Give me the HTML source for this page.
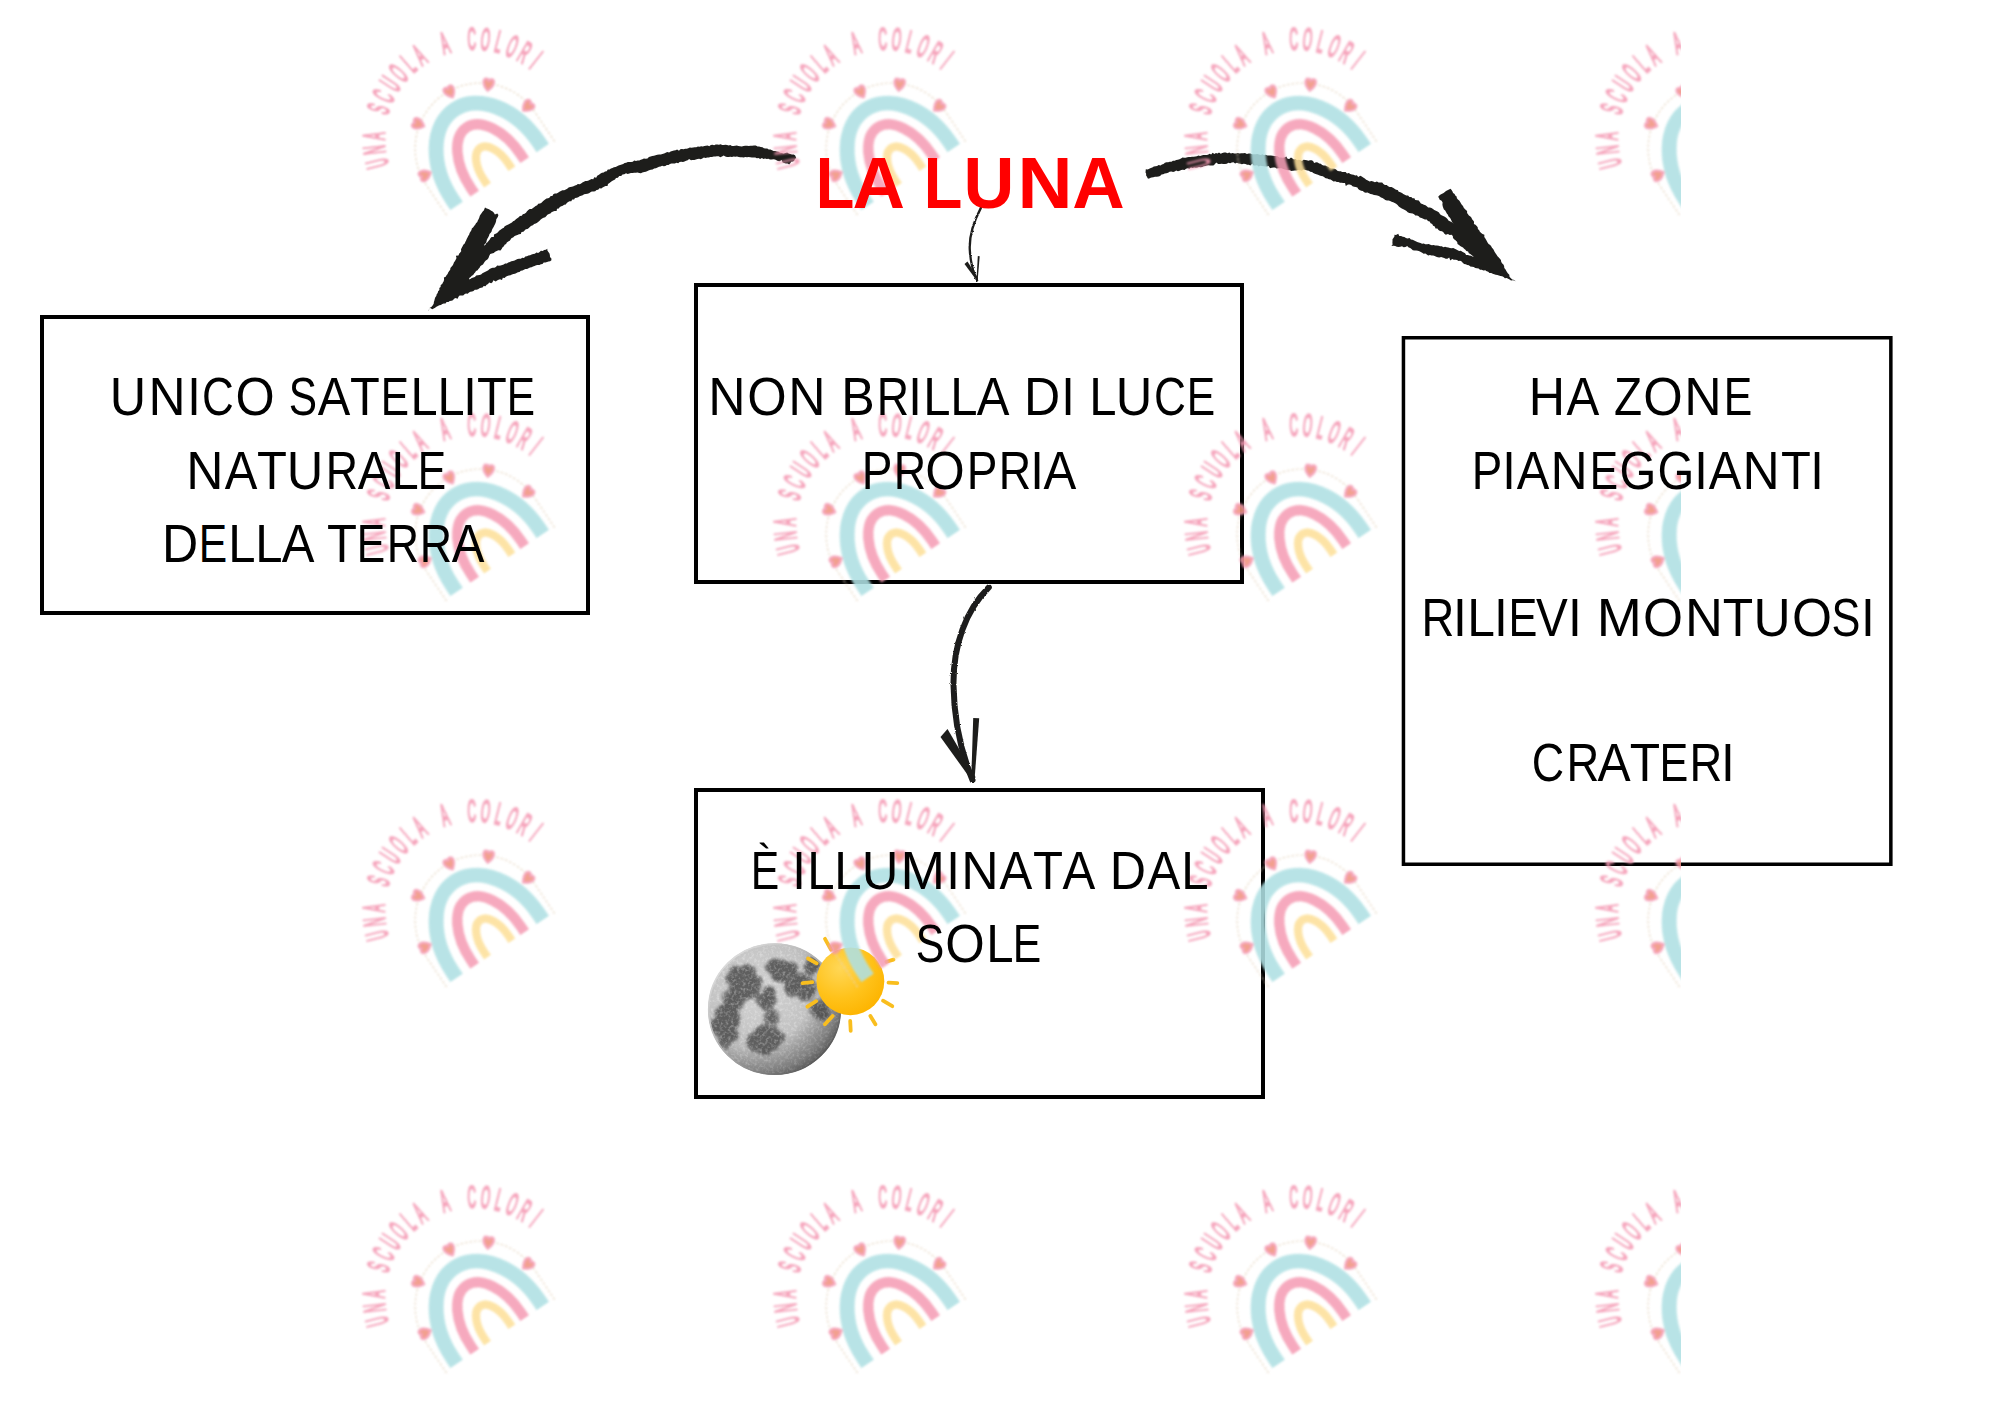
<!DOCTYPE html>
<html><head><meta charset="utf-8">
<style>
html,body{margin:0;padding:0;background:#fff;}
body{width:2000px;height:1414px;position:relative;overflow:hidden;}
.box{position:absolute;box-sizing:border-box;border:4px solid #000;}
svg{position:absolute;left:0;top:0;}
.tl{position:absolute;left:0;white-space:nowrap;font-family:"Liberation Sans",sans-serif;line-height:1;color:#000;}
.tl span{position:absolute;left:0;top:0;transform:translateX(-50%) scaleX(var(--k));}
.lun{font-weight:700;color:#ff0000;}
.t{position:absolute;white-space:nowrap;font-family:"Liberation Sans",sans-serif;line-height:1;color:#000;transform-origin:0 0;}
</style></head><body>
<div class="box" style="left:40px;top:315px;width:550px;height:300px;"></div>
<div class="box" style="left:694px;top:283px;width:550px;height:301px;"></div>
<div class="box" style="left:694px;top:788px;width:571px;height:311px;border-width:4px;"></div>
<svg width="2000" height="1414" viewBox="0 0 2000 1414">
<defs>
<radialGradient id="moonG" cx="0.38" cy="0.36" r="0.72">
<stop offset="0" stop-color="#d4d4d4"/><stop offset="0.55" stop-color="#c2c2c2"/><stop offset="0.85" stop-color="#a0a0a0"/><stop offset="1" stop-color="#707070"/>
</radialGradient>
<radialGradient id="sunG" cx="0.35" cy="0.3" r="0.75">
<stop offset="0" stop-color="#ffd757"/><stop offset="0.6" stop-color="#ffc21a"/><stop offset="1" stop-color="#fdb400"/>
</radialGradient>
<filter id="rough" x="-10%" y="-10%" width="120%" height="120%"><feTurbulence type="fractalNoise" baseFrequency="0.9" numOctaves="1" seed="5"/><feDisplacementMap in="SourceGraphic" scale="2.6" xChannelSelector="R" yChannelSelector="G"/></filter>
<filter id="mb" x="-20%" y="-20%" width="140%" height="140%"><feGaussianBlur stdDeviation="1.8"/></filter>
<filter id="speck" x="0" y="0" width="100%" height="100%"><feTurbulence type="fractalNoise" baseFrequency="0.35" numOctaves="2" seed="3"/><feColorMatrix type="matrix" values="0 0 0 0 1  0 0 0 0 1  0 0 0 0 1  0 0 0 -2.6 1.45"/></filter>
<radialGradient id="limbG" cx="0.3" cy="0.28" r="0.85"><stop offset="0.6" stop-color="#000" stop-opacity="0"/><stop offset="1" stop-color="#000" stop-opacity="0.35"/></radialGradient>
<linearGradient id="rimG" x1="0" y1="0" x2="1" y2="1"><stop offset="0" stop-color="#eeeeee"/><stop offset="0.5" stop-color="#aaaaaa"/><stop offset="1" stop-color="#3a3a3a"/></linearGradient>
<clipPath id="moonClip"><ellipse cx="774.5" cy="1009.2" rx="66.3" ry="65.6"/></clipPath>
</defs>
<rect x="1403.45" y="337.75" width="487.4" height="526.5" fill="none" stroke="#000" stroke-width="3.5"/>
<g fill="#1d1d1b">
<polygon points="795.2,155.6 793.7,154.6 792.0,154.6 790.3,154.1 788.7,153.4 787.2,152.5 785.3,152.9 783.5,153.4 781.8,153.1 780.2,152.8 778.6,151.8 777.0,151.4 775.3,151.0 773.6,150.9 772.0,150.3 770.5,149.5 768.7,149.6 767.3,148.6 765.6,148.4 763.9,148.3 762.5,147.2 760.7,147.1 759.1,146.6 757.5,146.4 755.8,145.6 754.0,145.6 752.2,145.7 750.5,145.8 748.8,145.9 747.0,145.7 745.2,145.8 743.5,145.9 741.8,146.5 740.0,146.2 738.4,146.0 736.8,145.5 735.2,145.7 733.5,146.0 731.9,146.1 730.3,145.0 728.7,145.5 727.1,144.9 725.5,144.7 723.9,144.9 722.2,145.0 720.6,144.3 719.0,144.7 717.3,144.5 715.7,144.5 714.1,145.3 712.5,144.8 710.8,145.1 709.3,146.2 707.6,145.5 706.0,145.8 704.4,145.9 702.8,146.6 701.1,146.3 699.5,146.7 697.9,146.4 696.3,147.3 694.6,147.2 693.1,147.5 691.5,147.8 689.8,147.5 688.3,148.2 686.8,148.8 685.1,148.7 683.6,149.3 681.9,149.1 680.3,149.3 679.0,150.8 677.1,149.5 675.6,150.3 673.9,150.4 672.2,151.0 670.6,151.6 669.1,152.4 667.2,152.0 665.7,152.8 664.1,153.6 662.4,154.1 660.8,154.4 659.1,154.6 657.3,154.8 655.6,155.3 654.0,155.8 652.2,156.0 650.6,156.6 648.9,157.1 647.5,158.4 645.8,158.8 643.9,158.5 642.4,159.3 640.8,159.7 639.3,160.5 637.6,160.4 636.0,161.0 634.2,160.6 632.8,161.7 631.1,161.9 629.5,162.1 627.8,161.9 626.2,162.7 624.6,163.0 623.2,163.9 621.7,164.4 620.1,165.0 618.5,165.4 617.1,166.3 615.6,167.0 613.9,167.2 612.5,168.1 610.9,168.5 609.5,169.6 607.8,169.6 606.7,171.2 605.0,171.4 603.7,172.6 602.0,172.8 600.6,173.6 599.0,174.7 597.2,175.7 596.2,177.8 594.2,177.2 593.3,179.3 591.5,179.0 590.0,179.7 588.6,180.6 587.0,180.9 585.4,181.1 583.9,181.7 582.4,182.4 581.1,183.5 579.7,184.2 577.8,183.9 576.6,185.1 575.0,185.6 573.5,186.3 571.9,186.8 570.2,187.1 568.6,187.6 567.2,188.7 565.8,189.6 564.2,190.2 562.4,190.2 560.9,190.9 559.4,191.7 558.0,192.7 556.6,193.4 554.8,193.6 553.3,194.3 552.4,195.9 550.7,196.1 549.6,197.5 548.2,198.2 546.5,198.6 545.1,199.4 543.8,200.4 542.7,201.5 541.5,202.8 540.1,203.6 538.2,203.7 537.2,205.2 535.6,205.9 534.4,207.0 533.0,208.1 531.7,209.0 529.7,209.1 528.3,210.1 527.0,211.2 526.0,212.7 524.6,213.7 522.8,214.2 521.8,215.7 519.9,216.0 518.7,217.2 517.3,218.3 515.9,219.3 514.7,220.6 513.1,221.2 511.9,222.5 510.1,223.5 508.3,224.4 506.6,225.3 504.7,226.2 503.8,227.8 502.2,228.5 500.9,229.6 499.4,230.4 498.3,231.7 497.1,233.0 495.6,233.8 494.0,234.6 493.8,236.9 491.6,237.0 490.4,238.2 489.6,239.7 488.5,240.9 487.5,242.2 486.2,243.3 485.5,244.8 484.1,245.8 484.5,244.2 486.0,243.1 486.5,241.5 486.8,239.9 487.5,238.4 488.4,237.0 489.1,235.5 489.5,233.9 490.7,232.7 491.6,231.4 492.0,229.7 492.8,228.3 493.6,226.9 494.3,225.4 495.1,224.0 495.7,222.5 496.1,220.9 496.3,219.2 497.3,217.8 498.0,216.4 498.4,214.9 497.3,213.6 494.9,214.4 493.9,212.7 492.7,211.6 491.2,210.7 489.8,209.8 488.4,208.9 486.8,208.4 485.0,207.4 484.4,209.0 483.8,210.6 482.5,211.7 481.7,213.1 480.6,214.4 479.8,215.8 479.3,217.5 478.7,219.0 477.8,220.4 477.3,222.0 476.0,223.2 475.2,224.7 474.1,225.9 473.3,227.3 471.8,228.4 471.5,230.1 470.6,231.6 469.6,232.9 469.2,234.6 468.2,236.0 467.5,237.4 466.7,238.9 466.1,240.5 465.3,242.0 464.7,243.6 463.3,244.7 462.6,246.2 461.8,247.7 461.0,249.2 461.2,251.2 460.2,252.5 459.1,253.8 458.5,255.4 455.9,255.8 456.5,258.1 455.8,259.6 455.0,261.1 453.9,262.4 453.4,264.1 452.6,265.5 451.5,266.8 450.4,268.1 450.2,269.8 449.2,271.1 448.2,272.4 447.6,274.0 446.5,275.2 445.7,276.7 443.9,277.6 444.1,279.5 443.7,281.2 442.9,282.6 442.2,284.1 440.7,285.1 440.6,286.9 439.3,288.1 439.4,289.9 438.1,291.2 437.7,292.9 436.7,294.3 436.3,295.9 435.3,297.3 434.8,298.8 434.4,300.5 433.9,302.1 433.7,303.8 432.8,305.3 431.6,306.8 430.0,307.8 429.2,309.6 427.6,310.7 429.1,310.0 429.8,307.7 432.3,309.3 433.7,308.5 435.1,307.7 436.4,306.7 437.9,306.1 439.3,305.3 440.9,304.9 442.3,304.0 443.8,303.5 445.5,303.4 446.6,301.9 448.5,302.1 449.7,300.9 451.5,300.8 452.9,300.2 454.1,298.8 455.5,298.0 457.6,298.7 458.5,296.8 459.6,295.4 461.5,295.5 463.2,295.6 464.5,294.3 465.9,293.6 467.7,293.7 469.0,292.6 470.4,291.8 472.1,291.6 473.5,290.9 474.8,289.8 476.5,289.7 478.1,289.3 479.4,288.2 481.0,287.8 482.5,287.4 483.7,286.1 485.5,286.2 486.6,284.7 488.1,284.0 489.1,282.4 491.2,283.2 492.5,282.2 493.4,280.2 495.7,281.6 497.1,280.6 498.5,279.8 500.0,279.3 502.0,280.0 502.8,277.8 504.6,277.9 505.8,276.7 507.3,276.0 508.8,275.5 510.5,275.3 511.9,274.5 513.4,274.0 515.0,273.8 516.5,273.1 517.9,272.2 519.5,272.0 520.8,270.7 522.5,270.6 523.9,269.8 525.4,269.0 527.1,269.1 528.5,268.2 530.0,267.6 531.6,267.3 533.0,266.4 534.6,266.0 536.1,265.2 537.7,265.1 539.4,265.0 540.9,264.3 542.5,263.9 543.7,262.5 545.4,262.5 547.0,262.1 548.5,261.5 550.1,261.2 551.4,260.2 551.4,258.4 550.0,257.1 549.9,255.2 549.5,253.5 548.4,252.1 547.4,250.6 547.3,248.8 545.9,249.8 544.1,249.9 542.8,251.0 540.9,250.8 539.6,252.1 538.1,252.9 536.3,252.6 534.9,253.8 533.2,254.1 531.6,254.4 530.1,255.2 528.4,255.5 527.0,256.3 525.3,256.5 524.0,257.9 522.3,257.8 520.8,258.7 519.1,258.8 517.5,259.1 516.0,259.8 514.6,260.6 512.9,261.0 511.3,261.3 509.9,262.1 508.2,262.4 506.9,263.5 505.1,263.5 503.7,264.4 502.2,265.0 500.6,265.6 499.0,265.8 497.2,265.6 495.9,267.0 494.4,267.7 492.7,267.8 491.1,268.3 489.6,269.1 488.3,270.2 486.9,271.1 485.4,271.7 483.9,272.5 482.4,273.3 481.1,274.4 479.5,274.9 477.9,275.3 476.2,275.6 474.9,276.9 473.4,277.4 471.8,278.1 470.4,278.9 468.8,279.4 467.2,280.3 469.0,279.8 469.3,277.9 470.7,277.1 471.8,275.8 473.2,275.0 474.1,273.6 475.1,272.4 476.0,271.1 477.6,270.3 478.4,268.9 479.6,267.8 480.3,266.3 481.6,265.3 483.0,264.4 483.9,263.1 484.7,261.7 485.8,260.4 487.4,259.6 488.5,257.9 489.2,255.9 490.2,254.0 491.9,253.4 493.8,253.1 495.1,251.8 496.7,251.0 498.4,250.3 500.5,250.6 501.8,248.8 502.6,247.3 503.9,246.3 504.6,244.8 506.1,244.0 506.8,242.4 508.2,241.6 509.7,240.8 510.6,239.4 511.6,238.1 513.1,237.5 514.3,236.2 515.9,235.6 517.4,234.9 519.0,234.3 520.8,234.0 521.5,231.9 523.4,231.8 524.6,230.6 525.8,229.3 527.5,229.0 528.9,228.1 530.0,226.7 531.4,225.8 532.9,225.2 534.1,224.1 535.8,223.6 537.1,222.7 538.4,221.7 539.6,220.7 540.7,219.4 542.1,218.6 543.5,217.7 545.2,217.3 546.4,216.1 547.4,214.8 548.9,214.1 550.4,213.5 551.5,212.2 553.1,211.6 554.6,211.0 556.6,211.1 557.0,208.7 558.8,208.4 559.8,206.9 561.3,206.3 562.8,205.7 564.1,204.8 565.8,204.5 566.8,203.0 568.1,202.1 569.5,201.2 571.3,201.2 572.2,199.5 574.1,199.6 575.0,198.0 576.8,197.8 578.2,197.2 579.6,196.3 581.1,195.7 582.7,195.2 584.1,194.2 585.8,194.1 587.4,193.8 589.0,193.2 590.4,192.2 591.8,191.4 593.6,191.6 595.2,191.2 596.5,189.9 598.2,189.7 599.4,188.2 601.3,188.6 602.6,187.5 604.0,186.7 605.5,186.0 607.5,185.9 608.0,183.9 609.5,183.1 610.7,181.9 612.1,181.1 613.5,180.2 615.0,179.4 616.0,178.0 617.9,177.7 619.2,176.1 621.2,176.1 622.5,174.5 624.3,174.2 626.0,173.2 627.7,173.9 629.3,173.5 630.9,173.1 632.6,173.0 634.2,172.8 635.9,172.7 637.5,172.6 639.2,172.9 640.9,173.3 642.4,172.4 644.2,172.1 645.9,171.7 647.5,170.9 649.1,170.2 650.8,169.7 652.6,169.4 654.1,168.5 655.9,168.3 657.5,167.4 659.0,166.7 660.6,166.5 662.1,165.8 663.8,166.2 665.4,166.0 666.8,165.0 668.5,165.0 669.9,163.9 671.5,163.6 673.2,163.6 674.9,163.6 676.4,162.7 678.2,163.2 679.6,162.1 681.2,161.7 683.0,161.9 684.5,161.4 686.1,160.7 687.7,160.2 689.1,158.9 691.0,160.3 692.6,159.9 694.3,159.9 695.9,159.4 697.5,159.1 699.1,158.7 700.8,159.2 702.3,158.5 703.9,157.5 705.6,158.0 707.2,157.6 708.8,157.5 710.4,157.1 712.0,156.9 713.7,156.4 715.3,156.4 717.0,156.3 718.7,156.3 720.3,157.2 722.0,156.5 723.7,155.4 725.3,156.6 727.0,157.0 728.7,157.0 730.3,156.7 732.0,157.0 733.7,156.6 735.3,156.7 737.0,156.6 738.7,157.0 740.3,157.3 742.0,157.3 743.7,157.6 745.3,156.9 747.0,157.2 748.7,157.1 750.3,157.2 752.0,157.4 753.6,157.6 755.3,157.4 756.9,158.2 758.5,158.0 760.1,159.1 761.9,158.0 763.4,158.9 765.1,158.6 766.7,159.1 768.4,158.8 770.0,159.6 771.7,159.6 773.4,159.3 775.0,159.5 776.5,160.2 777.9,161.0 779.6,161.2 781.7,160.1 782.6,162.6 784.2,163.0 785.8,163.5 787.5,163.5 789.2,164.6 790.3,163.3 791.2,161.8 793.1,161.4 794.4,160.5 795.1,158.7 796.3,158.2"/>
<polygon points="1145.5,172.5 1145.8,169.3 1147.7,169.5 1149.2,168.7 1150.8,168.0 1152.3,167.4 1153.8,166.6 1155.5,166.3 1157.1,166.0 1158.6,165.0 1160.5,165.5 1161.9,164.5 1163.5,164.0 1164.9,162.8 1166.5,162.3 1168.2,162.2 1169.8,161.7 1171.5,161.7 1172.9,160.7 1174.7,160.7 1176.2,159.9 1177.8,159.7 1179.5,159.3 1181.0,158.6 1182.5,157.6 1184.1,157.7 1185.7,157.8 1187.3,157.2 1188.9,156.9 1190.5,156.9 1192.1,156.8 1193.7,156.8 1195.3,156.6 1196.9,156.3 1198.4,155.6 1200.1,155.9 1201.6,155.4 1203.2,155.0 1204.8,154.9 1206.4,154.9 1208.0,154.8 1209.5,153.7 1211.2,154.6 1212.6,152.7 1214.4,154.1 1215.9,153.0 1217.6,153.5 1219.0,152.5 1220.7,153.7 1222.4,153.0 1224.1,152.5 1225.8,152.6 1227.5,153.3 1229.3,152.6 1230.9,153.6 1232.6,153.0 1234.3,153.4 1236.0,153.6 1237.8,153.1 1239.6,153.5 1241.4,153.2 1243.2,153.2 1245.0,152.9 1246.9,153.9 1248.7,153.4 1250.5,153.4 1252.1,154.3 1253.9,154.2 1255.6,154.3 1257.3,153.9 1259.0,154.4 1260.7,155.1 1262.5,154.3 1264.1,155.2 1265.8,154.7 1267.5,155.6 1269.2,155.4 1270.9,155.6 1272.7,155.7 1274.4,156.0 1276.1,156.1 1277.8,156.3 1279.3,157.6 1281.1,157.4 1282.8,157.8 1284.5,157.5 1286.3,156.5 1287.6,158.7 1289.2,158.9 1291.0,157.4 1292.5,158.6 1294.0,159.5 1295.7,159.0 1297.1,160.2 1298.8,159.8 1300.4,160.2 1301.9,161.0 1303.6,159.7 1305.2,160.0 1306.8,160.3 1308.4,160.8 1310.0,160.2 1311.6,160.2 1313.1,160.9 1314.1,162.9 1316.1,162.2 1317.8,162.5 1319.1,163.5 1320.8,163.8 1322.1,164.9 1323.6,165.4 1325.4,165.4 1326.9,166.2 1328.4,166.7 1329.7,167.8 1331.3,168.3 1333.0,168.5 1334.6,168.8 1336.1,169.4 1337.3,170.8 1339.0,171.2 1340.7,171.2 1342.2,172.0 1343.9,172.1 1345.6,172.1 1347.0,173.4 1348.9,172.9 1350.3,173.9 1351.9,174.5 1353.6,174.7 1355.2,175.4 1356.9,175.3 1358.2,177.0 1360.3,175.7 1361.8,176.4 1363.2,177.6 1364.8,178.5 1366.2,179.7 1367.9,180.5 1369.6,181.5 1371.4,181.1 1373.2,181.5 1374.9,182.3 1376.9,181.5 1378.6,182.4 1380.3,182.5 1382.2,182.6 1383.4,184.1 1384.9,185.0 1386.8,184.9 1388.1,186.3 1389.6,187.0 1391.5,187.1 1393.0,187.8 1394.5,188.8 1396.0,189.7 1397.7,190.1 1398.7,191.7 1400.4,192.2 1402.0,192.9 1403.3,194.0 1404.8,194.8 1406.3,195.6 1408.1,195.6 1409.4,196.9 1411.3,197.0 1412.5,198.2 1414.4,198.3 1415.2,200.1 1417.1,200.2 1418.9,200.4 1419.8,202.1 1420.9,203.4 1422.4,204.1 1423.9,204.8 1425.5,205.2 1426.8,206.3 1428.1,207.4 1429.9,207.6 1431.5,207.9 1433.0,208.9 1434.3,209.9 1435.9,210.8 1437.5,211.5 1439.0,212.6 1440.0,214.3 1441.5,215.2 1443.2,215.9 1444.8,216.7 1446.2,217.8 1447.5,219.0 1448.4,220.5 1449.9,221.3 1451.5,222.1 1452.8,223.0 1454.2,224.2 1452.9,223.1 1451.9,221.8 1451.3,220.2 1450.6,218.8 1449.7,217.4 1448.4,216.3 1447.9,214.7 1446.8,213.5 1446.0,212.0 1445.2,210.6 1443.9,209.6 1443.3,207.9 1442.7,206.2 1442.4,204.4 1442.6,202.4 1441.6,200.7 1439.7,199.7 1438.9,198.0 1438.2,196.7 1439.3,195.4 1440.6,194.4 1442.1,193.7 1443.6,193.1 1444.8,192.0 1446.0,191.0 1447.5,190.3 1449.0,189.6 1450.5,188.8 1451.6,190.0 1452.5,191.4 1453.1,193.0 1454.6,193.9 1455.3,195.4 1456.6,196.5 1456.9,198.3 1457.9,199.5 1459.2,200.6 1460.2,201.9 1461.0,203.4 1461.8,204.8 1463.0,206.0 1463.6,207.5 1464.6,208.8 1465.9,209.9 1467.1,211.0 1467.1,212.9 1468.0,214.2 1468.9,215.6 1470.4,216.6 1471.5,217.7 1472.1,219.3 1473.2,220.5 1474.1,221.8 1473.9,223.9 1475.5,224.8 1476.7,225.9 1477.7,227.2 1477.9,229.1 1479.2,230.2 1479.9,231.8 1481.2,232.9 1482.5,234.0 1484.4,234.8 1484.3,236.9 1485.2,238.3 1486.1,239.7 1486.9,241.2 1487.7,242.7 1488.6,244.1 1490.2,245.0 1491.2,246.3 1492.0,247.8 1493.2,249.1 1494.0,250.5 1494.7,252.1 1495.7,253.4 1496.6,254.8 1497.5,256.3 1498.8,257.4 1499.9,258.7 1500.9,260.0 1501.2,261.8 1502.0,263.3 1503.4,264.5 1504.1,266.0 1504.3,267.9 1505.4,269.2 1506.2,270.7 1507.1,272.2 1508.0,273.6 1509.3,274.8 1509.5,276.7 1510.7,278.0 1512.2,279.5 1514.4,279.9 1515.8,281.5 1514.4,280.6 1512.8,280.2 1511.0,280.4 1509.6,279.6 1508.1,278.8 1506.7,277.9 1504.9,278.2 1503.6,276.9 1502.1,276.3 1500.4,276.1 1498.9,275.6 1497.4,274.9 1495.7,274.8 1494.2,274.3 1492.7,273.7 1491.2,272.9 1489.5,273.0 1488.2,271.7 1486.7,271.2 1485.3,270.2 1483.4,270.4 1481.8,269.8 1480.0,269.8 1478.6,268.6 1476.9,268.2 1475.2,268.1 1473.8,267.0 1472.1,266.7 1470.3,266.6 1468.9,265.3 1467.3,265.0 1465.7,264.2 1464.1,263.9 1462.7,262.8 1461.7,261.4 1460.1,260.8 1458.5,261.0 1457.0,259.9 1455.4,259.7 1453.7,259.8 1452.2,259.0 1450.3,260.6 1449.2,257.6 1447.4,258.7 1445.7,258.7 1444.2,258.0 1442.6,257.6 1441.1,257.1 1439.3,257.6 1437.8,257.2 1436.2,256.7 1434.7,256.1 1433.2,255.4 1431.5,255.5 1429.9,255.1 1428.2,255.4 1426.8,254.5 1425.4,253.6 1423.6,253.7 1422.2,252.8 1420.8,252.0 1419.4,251.2 1417.8,250.8 1416.2,250.5 1414.5,250.4 1412.8,250.3 1411.5,249.1 1410.2,248.0 1408.7,247.6 1407.2,246.0 1405.5,247.0 1403.7,247.2 1402.0,246.3 1400.3,246.7 1398.6,246.9 1396.8,246.8 1395.2,246.0 1393.4,245.8 1391.4,246.0 1392.6,244.6 1392.4,242.8 1392.5,241.0 1392.5,239.3 1393.6,237.8 1394.5,236.3 1394.4,234.7 1396.0,235.1 1398.2,233.7 1399.3,236.0 1401.1,236.1 1402.7,236.8 1404.4,237.0 1405.9,238.0 1407.6,238.5 1409.5,238.1 1410.9,239.4 1412.6,239.8 1414.1,240.6 1415.7,241.3 1417.2,242.1 1418.8,242.5 1420.5,243.0 1422.1,243.8 1423.8,243.4 1425.3,244.2 1427.0,244.2 1428.8,243.9 1430.3,244.7 1431.9,245.3 1433.6,245.0 1435.2,245.6 1436.9,245.5 1438.6,245.7 1440.1,246.3 1441.8,246.3 1443.4,247.2 1445.1,246.8 1446.7,247.3 1448.3,247.6 1449.9,248.1 1451.5,248.3 1453.3,248.1 1454.8,248.7 1456.3,249.4 1457.7,250.2 1459.1,251.0 1460.9,250.8 1462.3,251.8 1463.7,252.5 1465.1,253.3 1466.1,255.0 1467.9,254.9 1469.4,255.5 1471.0,255.8 1472.5,256.5 1473.9,257.2 1472.8,255.9 1471.5,255.0 1470.3,254.0 1468.8,253.2 1468.1,251.5 1466.3,251.1 1465.4,249.7 1464.1,248.8 1463.0,247.6 1461.5,246.8 1460.2,245.9 1459.0,244.9 1457.5,244.0 1457.2,242.0 1455.8,240.6 1454.4,239.4 1453.0,238.0 1452.8,236.0 1451.6,234.7 1449.7,235.0 1447.9,233.9 1445.8,234.8 1444.4,233.8 1443.4,232.2 1442.0,231.2 1440.0,230.9 1438.5,230.0 1437.4,228.6 1435.5,228.4 1434.8,226.4 1433.1,225.7 1432.2,224.1 1430.6,223.2 1429.7,221.6 1427.9,221.0 1426.8,219.5 1424.9,219.4 1423.2,218.7 1421.6,218.1 1419.8,217.6 1418.7,216.2 1417.1,215.6 1415.3,215.5 1414.1,214.3 1412.6,213.6 1410.9,213.3 1409.3,212.9 1407.7,212.2 1406.5,210.9 1404.9,210.1 1403.4,209.3 1401.8,208.5 1400.2,207.6 1398.8,206.4 1397.6,204.9 1396.1,203.7 1394.7,202.9 1393.2,202.2 1391.6,201.8 1390.1,201.1 1388.7,200.4 1386.9,200.4 1385.3,199.9 1384.0,198.9 1382.5,198.1 1381.0,197.5 1379.7,196.5 1378.1,195.7 1376.1,195.3 1374.0,194.9 1372.1,194.2 1370.5,193.9 1369.0,193.2 1367.5,192.4 1365.7,192.8 1364.2,192.2 1362.8,191.1 1361.2,190.8 1359.5,190.1 1358.2,189.1 1357.4,187.4 1355.7,186.9 1354.1,186.7 1352.5,186.2 1351.2,185.0 1349.6,184.5 1347.9,184.4 1345.8,186.1 1345.0,182.9 1343.2,183.1 1341.6,182.8 1340.0,182.7 1338.5,181.9 1336.8,181.9 1335.3,181.2 1333.5,181.4 1332.1,180.4 1330.6,179.6 1328.9,179.3 1327.4,178.6 1325.7,178.2 1324.3,177.2 1322.9,176.3 1321.2,176.0 1319.6,175.6 1318.0,174.8 1316.4,174.3 1314.9,173.8 1313.3,173.1 1312.0,171.9 1310.2,171.8 1308.9,170.7 1307.2,170.5 1305.4,170.0 1303.6,169.4 1301.9,170.7 1300.1,170.3 1298.3,170.1 1296.5,170.5 1294.8,170.6 1293.0,170.8 1291.3,170.9 1289.7,170.2 1288.0,170.3 1286.4,169.9 1284.8,169.5 1283.2,168.9 1281.6,168.3 1280.0,168.2 1278.3,168.2 1276.6,168.4 1275.1,167.5 1273.4,167.5 1271.7,167.7 1270.0,168.3 1268.6,166.1 1266.9,166.5 1265.2,166.5 1263.6,166.2 1262.0,166.0 1260.3,165.7 1258.6,166.4 1257.1,165.2 1255.4,165.6 1253.7,165.6 1252.3,163.6 1250.4,165.5 1248.8,164.7 1247.1,164.7 1245.5,163.9 1243.7,163.8 1241.9,164.3 1240.3,163.8 1238.6,163.6 1236.9,162.8 1235.1,163.5 1233.5,162.3 1231.8,162.5 1230.1,163.3 1228.4,162.8 1226.8,163.8 1225.0,163.9 1223.3,164.0 1221.6,163.7 1219.9,164.1 1218.2,164.1 1216.2,162.5 1214.8,164.3 1213.4,165.5 1211.7,165.5 1210.1,165.6 1208.5,165.3 1206.9,165.4 1205.3,166.0 1203.7,166.2 1202.2,167.0 1200.6,167.3 1199.0,167.0 1197.4,167.6 1195.8,167.8 1194.2,167.6 1192.6,168.1 1190.9,167.5 1189.5,168.8 1187.7,168.3 1186.0,168.7 1184.6,169.9 1182.8,169.7 1181.2,170.1 1179.7,170.8 1178.0,171.2 1176.2,170.6 1174.7,171.6 1173.1,171.9 1171.3,171.5 1169.6,171.8 1168.1,172.7 1166.4,173.2 1164.7,173.4 1163.2,174.2 1161.5,174.6 1160.1,175.9 1158.5,176.5 1156.8,176.8 1155.0,176.8 1153.3,177.3 1151.6,177.6 1150.0,178.1 1148.9,178.7 1147.6,178.3 1147.0,176.7 1146.1,175.4 1146.1,173.6"/>
</g>
<g fill="none" stroke="#1d1d1b" stroke-linecap="round" filter="url(#rough)">
<path d="M981,207.6 C975,219 969,235 969.8,250 C970.5,262 973,272 977.1,280.5" stroke-width="2.3"/>
<path d="M988.8,587.4 C966,610 953,645 953.5,685 C954,722 961,752 972.5,780" stroke-width="6"/>
</g>
<g fill="#1d1d1b">
<polygon points="964.5,264 967.5,261.5 978,278 977.1,281"/>
<polygon points="977.8,256 979.7,256.3 977.6,281 976.5,280"/>
<polygon points="940.5,737 947.5,729 975.5,777 973.2,782.5"/>
<polygon points="973.2,718 979.2,718.2 974.6,779 971.3,777"/>
</g>
<!-- moon -->
<ellipse cx="774.5" cy="1009.2" rx="66.3" ry="65.6" fill="url(#moonG)"/>
<g clip-path="url(#moonClip)">
<g filter="url(#mb)" fill="#5e5e5e">
<circle cx="741.5" cy="988.0" r="5.5" opacity="0.85"/>
<circle cx="753.5" cy="987.6" r="4.6" opacity="0.85"/>
<circle cx="753.6" cy="986.7" r="3.6" opacity="0.85"/>
<circle cx="740.5" cy="984.5" r="3.8" opacity="0.85"/>
<circle cx="732.3" cy="989.0" r="3.9" opacity="0.85"/>
<circle cx="745.9" cy="994.3" r="6.3" opacity="0.85"/>
<circle cx="735.9" cy="978.8" r="6.4" opacity="0.85"/>
<circle cx="756.8" cy="986.9" r="4.4" opacity="0.85"/>
<circle cx="747.1" cy="986.9" r="4.4" opacity="0.85"/>
<circle cx="746.5" cy="977.4" r="5.2" opacity="0.85"/>
<circle cx="738.3" cy="976.2" r="5.1" opacity="0.85"/>
<circle cx="747.3" cy="984.4" r="4.1" opacity="0.85"/>
<circle cx="740.0" cy="974.4" r="4.4" opacity="0.85"/>
<circle cx="735.6" cy="978.0" r="4.4" opacity="0.85"/>
<circle cx="747.3" cy="971.4" r="4.2" opacity="0.85"/>
<circle cx="734.7" cy="978.3" r="6.1" opacity="0.85"/>
<circle cx="743.0" cy="975.3" r="6.4" opacity="0.85"/>
<circle cx="750.9" cy="989.3" r="5.8" opacity="0.85"/>
<circle cx="749.8" cy="991.2" r="3.6" opacity="0.85"/>
<circle cx="737.8" cy="972.0" r="5.2" opacity="0.85"/>
<circle cx="749.7" cy="977.3" r="5.6" opacity="0.85"/>
<circle cx="734.9" cy="976.9" r="4.9" opacity="0.85"/>
<circle cx="751.5" cy="971.1" r="4.9" opacity="0.85"/>
<circle cx="742.2" cy="979.9" r="5.6" opacity="0.85"/>
<circle cx="735.3" cy="971.5" r="6.0" opacity="0.85"/>
<circle cx="742.1" cy="991.8" r="5.5" opacity="0.85"/>
<circle cx="753.7" cy="984.4" r="4.0" opacity="0.85"/>
<circle cx="746.6" cy="985.4" r="5.8" opacity="0.85"/>
<circle cx="748.9" cy="988.2" r="4.7" opacity="0.85"/>
<circle cx="746.8" cy="980.0" r="4.8" opacity="0.85"/>
<circle cx="731.1" cy="978.8" r="6.0" opacity="0.85"/>
<circle cx="749.0" cy="977.2" r="4.7" opacity="0.85"/>
<circle cx="735.4" cy="993.5" r="6.4" opacity="0.85"/>
<circle cx="747.5" cy="987.9" r="4.2" opacity="0.85"/>
<circle cx="745.1" cy="993.0" r="5.3" opacity="0.85"/>
<circle cx="743.9" cy="983.9" r="4.8" opacity="0.85"/>
<circle cx="736.6" cy="991.0" r="6.4" opacity="0.85"/>
<circle cx="740.2" cy="973.3" r="5.4" opacity="0.85"/>
<circle cx="742.5" cy="980.0" r="6.2" opacity="0.85"/>
<circle cx="746.5" cy="969.7" r="5.9" opacity="0.85"/>
<circle cx="736.9" cy="988.7" r="3.8" opacity="0.85"/>
<circle cx="741.6" cy="980.3" r="3.7" opacity="0.85"/>
<circle cx="745.5" cy="988.6" r="4.5" opacity="0.85"/>
<circle cx="744.2" cy="983.1" r="4.0" opacity="0.85"/>
<circle cx="751.0" cy="988.2" r="3.6" opacity="0.85"/>
<circle cx="752.0" cy="975.0" r="3.9" opacity="0.85"/>
<circle cx="743.9" cy="991.5" r="4.6" opacity="0.85"/>
<circle cx="753.5" cy="992.3" r="6.5" opacity="0.85"/>
<circle cx="734.2" cy="985.1" r="3.8" opacity="0.85"/>
<circle cx="750.8" cy="988.1" r="4.3" opacity="0.85"/>
<circle cx="746.8" cy="977.9" r="3.6" opacity="0.85"/>
<circle cx="754.0" cy="979.8" r="3.9" opacity="0.85"/>
<circle cx="741.7" cy="982.4" r="5.1" opacity="0.85"/>
<circle cx="757.3" cy="981.2" r="5.6" opacity="0.85"/>
<circle cx="779.5" cy="977.6" r="4.0" opacity="0.85"/>
<circle cx="781.3" cy="965.2" r="5.8" opacity="0.85"/>
<circle cx="777.1" cy="975.9" r="5.9" opacity="0.85"/>
<circle cx="791.7" cy="971.2" r="5.9" opacity="0.85"/>
<circle cx="784.6" cy="964.7" r="4.2" opacity="0.85"/>
<circle cx="772.4" cy="971.4" r="3.6" opacity="0.85"/>
<circle cx="786.6" cy="972.9" r="4.3" opacity="0.85"/>
<circle cx="775.6" cy="963.4" r="4.8" opacity="0.85"/>
<circle cx="791.7" cy="968.4" r="6.4" opacity="0.85"/>
<circle cx="776.1" cy="975.3" r="4.2" opacity="0.85"/>
<circle cx="781.9" cy="976.0" r="5.4" opacity="0.85"/>
<circle cx="789.5" cy="967.0" r="4.9" opacity="0.85"/>
<circle cx="773.5" cy="965.1" r="3.8" opacity="0.85"/>
<circle cx="773.5" cy="964.5" r="5.8" opacity="0.85"/>
<circle cx="780.0" cy="965.5" r="4.0" opacity="0.85"/>
<circle cx="781.8" cy="966.8" r="5.9" opacity="0.85"/>
<circle cx="787.9" cy="971.0" r="4.7" opacity="0.85"/>
<circle cx="790.3" cy="969.4" r="4.0" opacity="0.85"/>
<circle cx="783.5" cy="974.6" r="6.2" opacity="0.85"/>
<circle cx="781.7" cy="968.6" r="6.0" opacity="0.85"/>
<circle cx="790.3" cy="971.1" r="4.6" opacity="0.85"/>
<circle cx="775.6" cy="971.0" r="3.5" opacity="0.85"/>
<circle cx="790.1" cy="970.6" r="5.1" opacity="0.85"/>
<circle cx="787.7" cy="969.5" r="6.1" opacity="0.85"/>
<circle cx="782.7" cy="968.2" r="4.3" opacity="0.85"/>
<circle cx="778.3" cy="976.4" r="5.3" opacity="0.85"/>
<circle cx="779.5" cy="978.0" r="3.9" opacity="0.85"/>
<circle cx="786.4" cy="969.0" r="4.9" opacity="0.85"/>
<circle cx="769.5" cy="967.6" r="4.8" opacity="0.85"/>
<circle cx="787.9" cy="968.7" r="5.1" opacity="0.85"/>
<circle cx="778.3" cy="971.8" r="4.8" opacity="0.85"/>
<circle cx="780.3" cy="972.5" r="5.9" opacity="0.85"/>
<circle cx="784.1" cy="977.7" r="5.7" opacity="0.85"/>
<circle cx="795.1" cy="985.0" r="5.1" opacity="0.80"/>
<circle cx="791.8" cy="983.9" r="3.8" opacity="0.80"/>
<circle cx="795.9" cy="985.1" r="4.3" opacity="0.80"/>
<circle cx="802.1" cy="979.8" r="5.2" opacity="0.80"/>
<circle cx="801.7" cy="977.3" r="4.8" opacity="0.80"/>
<circle cx="795.0" cy="982.3" r="5.0" opacity="0.80"/>
<circle cx="798.4" cy="980.6" r="5.1" opacity="0.80"/>
<circle cx="790.4" cy="988.4" r="5.6" opacity="0.80"/>
<circle cx="808.7" cy="980.1" r="4.3" opacity="0.80"/>
<circle cx="791.0" cy="983.4" r="6.0" opacity="0.80"/>
<circle cx="803.5" cy="989.7" r="4.8" opacity="0.80"/>
<circle cx="805.9" cy="989.2" r="3.7" opacity="0.80"/>
<circle cx="796.3" cy="979.1" r="6.2" opacity="0.80"/>
<circle cx="806.3" cy="994.1" r="5.5" opacity="0.80"/>
<circle cx="807.5" cy="994.5" r="6.4" opacity="0.80"/>
<circle cx="803.0" cy="996.8" r="4.7" opacity="0.80"/>
<circle cx="790.0" cy="987.8" r="6.0" opacity="0.80"/>
<circle cx="804.8" cy="992.7" r="5.0" opacity="0.80"/>
<circle cx="798.4" cy="990.8" r="4.5" opacity="0.80"/>
<circle cx="800.7" cy="985.6" r="5.2" opacity="0.80"/>
<circle cx="799.6" cy="987.5" r="4.5" opacity="0.80"/>
<circle cx="795.4" cy="981.9" r="3.7" opacity="0.80"/>
<circle cx="810.8" cy="986.2" r="6.4" opacity="0.80"/>
<circle cx="805.5" cy="990.2" r="3.6" opacity="0.80"/>
<circle cx="802.0" cy="981.8" r="3.9" opacity="0.80"/>
<circle cx="791.7" cy="991.6" r="6.0" opacity="0.80"/>
<circle cx="800.8" cy="990.9" r="6.3" opacity="0.80"/>
<circle cx="792.6" cy="983.3" r="3.8" opacity="0.80"/>
<circle cx="809.6" cy="990.0" r="4.8" opacity="0.80"/>
<circle cx="810.6" cy="991.3" r="5.4" opacity="0.80"/>
<circle cx="802.0" cy="984.2" r="6.1" opacity="0.80"/>
<circle cx="810.4" cy="990.9" r="4.9" opacity="0.80"/>
<circle cx="810.6" cy="969.2" r="6.3" opacity="0.80"/>
<circle cx="812.8" cy="967.8" r="5.1" opacity="0.80"/>
<circle cx="813.1" cy="967.7" r="4.0" opacity="0.80"/>
<circle cx="815.5" cy="966.7" r="4.4" opacity="0.80"/>
<circle cx="811.2" cy="970.2" r="4.4" opacity="0.80"/>
<circle cx="810.5" cy="966.0" r="4.5" opacity="0.80"/>
<circle cx="816.0" cy="966.3" r="3.5" opacity="0.80"/>
<circle cx="812.5" cy="962.2" r="4.1" opacity="0.80"/>
<circle cx="807.3" cy="966.8" r="3.8" opacity="0.80"/>
<circle cx="814.6" cy="963.0" r="5.0" opacity="0.80"/>
<circle cx="814.9" cy="963.2" r="5.0" opacity="0.80"/>
<circle cx="810.8" cy="961.3" r="4.5" opacity="0.80"/>
<circle cx="815.5" cy="962.3" r="5.4" opacity="0.80"/>
<circle cx="720.6" cy="1030.5" r="3.7" opacity="0.75"/>
<circle cx="728.0" cy="1027.8" r="5.7" opacity="0.75"/>
<circle cx="725.8" cy="1031.9" r="3.8" opacity="0.75"/>
<circle cx="731.6" cy="1008.7" r="5.5" opacity="0.75"/>
<circle cx="724.9" cy="1033.4" r="4.4" opacity="0.75"/>
<circle cx="721.8" cy="1026.0" r="4.8" opacity="0.75"/>
<circle cx="725.1" cy="1043.1" r="6.4" opacity="0.75"/>
<circle cx="720.8" cy="1021.2" r="6.4" opacity="0.75"/>
<circle cx="723.6" cy="1034.9" r="3.5" opacity="0.75"/>
<circle cx="720.4" cy="1033.1" r="5.0" opacity="0.75"/>
<circle cx="728.4" cy="1037.2" r="3.5" opacity="0.75"/>
<circle cx="725.7" cy="1029.8" r="4.7" opacity="0.75"/>
<circle cx="727.6" cy="1024.8" r="4.4" opacity="0.75"/>
<circle cx="726.9" cy="1038.9" r="5.1" opacity="0.75"/>
<circle cx="726.0" cy="1008.1" r="5.6" opacity="0.75"/>
<circle cx="731.0" cy="1015.6" r="4.5" opacity="0.75"/>
<circle cx="730.3" cy="1023.3" r="5.7" opacity="0.75"/>
<circle cx="724.6" cy="1020.8" r="6.0" opacity="0.75"/>
<circle cx="732.8" cy="1014.3" r="5.7" opacity="0.75"/>
<circle cx="727.6" cy="1017.3" r="5.1" opacity="0.75"/>
<circle cx="715.9" cy="1023.5" r="5.9" opacity="0.75"/>
<circle cx="729.9" cy="1010.7" r="6.2" opacity="0.75"/>
<circle cx="722.2" cy="1009.1" r="4.2" opacity="0.75"/>
<circle cx="730.0" cy="1025.4" r="4.6" opacity="0.75"/>
<circle cx="734.0" cy="1034.9" r="5.2" opacity="0.75"/>
<circle cx="719.9" cy="1012.9" r="5.5" opacity="0.75"/>
<circle cx="725.4" cy="1024.1" r="5.9" opacity="0.75"/>
<circle cx="725.9" cy="1010.1" r="5.1" opacity="0.75"/>
<circle cx="724.5" cy="1019.8" r="5.7" opacity="0.75"/>
<circle cx="726.0" cy="1029.3" r="4.3" opacity="0.75"/>
<circle cx="725.4" cy="1015.2" r="5.7" opacity="0.75"/>
<circle cx="733.7" cy="1021.9" r="4.6" opacity="0.75"/>
<circle cx="716.9" cy="1026.1" r="5.8" opacity="0.75"/>
<circle cx="719.4" cy="1013.5" r="3.7" opacity="0.75"/>
<circle cx="729.3" cy="1031.9" r="5.7" opacity="0.75"/>
<circle cx="723.2" cy="1037.9" r="3.5" opacity="0.75"/>
<circle cx="731.3" cy="1027.8" r="5.5" opacity="0.75"/>
<circle cx="722.8" cy="1009.0" r="4.4" opacity="0.75"/>
<circle cx="718.5" cy="1022.6" r="4.9" opacity="0.75"/>
<circle cx="733.7" cy="1036.5" r="4.1" opacity="0.75"/>
<circle cx="736.6" cy="1021.4" r="3.6" opacity="0.75"/>
<circle cx="716.3" cy="1028.5" r="6.4" opacity="0.75"/>
<circle cx="720.6" cy="1027.2" r="4.1" opacity="0.75"/>
<circle cx="730.8" cy="1021.0" r="5.2" opacity="0.75"/>
<circle cx="731.0" cy="1035.0" r="6.4" opacity="0.75"/>
<circle cx="732.7" cy="1037.1" r="5.0" opacity="0.75"/>
<circle cx="733.0" cy="1013.3" r="4.2" opacity="0.75"/>
<circle cx="732.2" cy="1015.8" r="3.6" opacity="0.75"/>
<circle cx="733.7" cy="1024.3" r="4.9" opacity="0.75"/>
<circle cx="724.7" cy="1030.9" r="4.5" opacity="0.75"/>
<circle cx="721.9" cy="1040.4" r="3.5" opacity="0.75"/>
<circle cx="726.0" cy="1006.1" r="3.9" opacity="0.75"/>
<circle cx="734.4" cy="1016.6" r="6.2" opacity="0.75"/>
<circle cx="724.3" cy="1035.6" r="4.7" opacity="0.75"/>
<circle cx="734.5" cy="1023.9" r="4.6" opacity="0.75"/>
<circle cx="729.4" cy="1003.8" r="3.6" opacity="0.70"/>
<circle cx="738.6" cy="1006.2" r="4.4" opacity="0.70"/>
<circle cx="736.5" cy="1000.5" r="4.3" opacity="0.70"/>
<circle cx="729.7" cy="1001.8" r="4.6" opacity="0.70"/>
<circle cx="739.9" cy="1000.0" r="5.9" opacity="0.70"/>
<circle cx="728.0" cy="996.6" r="6.3" opacity="0.70"/>
<circle cx="726.8" cy="1000.0" r="3.6" opacity="0.70"/>
<circle cx="732.4" cy="996.9" r="5.8" opacity="0.70"/>
<circle cx="730.5" cy="998.8" r="3.6" opacity="0.70"/>
<circle cx="735.4" cy="1000.8" r="4.9" opacity="0.70"/>
<circle cx="730.7" cy="1005.5" r="5.7" opacity="0.70"/>
<circle cx="736.9" cy="1001.4" r="5.5" opacity="0.70"/>
<circle cx="731.2" cy="1007.4" r="4.7" opacity="0.70"/>
<circle cx="734.5" cy="1004.7" r="4.1" opacity="0.70"/>
<circle cx="737.5" cy="999.0" r="4.2" opacity="0.70"/>
<circle cx="739.3" cy="997.8" r="4.8" opacity="0.70"/>
<circle cx="735.1" cy="1004.6" r="3.8" opacity="0.70"/>
<circle cx="731.7" cy="1003.9" r="4.2" opacity="0.70"/>
<circle cx="732.7" cy="1007.8" r="6.2" opacity="0.70"/>
<circle cx="766.0" cy="1033.4" r="4.7" opacity="0.85"/>
<circle cx="756.7" cy="1039.1" r="4.5" opacity="0.85"/>
<circle cx="773.5" cy="1042.0" r="6.4" opacity="0.85"/>
<circle cx="773.6" cy="1045.1" r="5.4" opacity="0.85"/>
<circle cx="770.6" cy="1036.4" r="4.3" opacity="0.85"/>
<circle cx="766.1" cy="1046.4" r="4.8" opacity="0.85"/>
<circle cx="779.5" cy="1037.3" r="6.1" opacity="0.85"/>
<circle cx="768.7" cy="1040.3" r="5.6" opacity="0.85"/>
<circle cx="774.3" cy="1035.7" r="5.3" opacity="0.85"/>
<circle cx="775.6" cy="1040.0" r="6.3" opacity="0.85"/>
<circle cx="772.5" cy="1031.6" r="6.4" opacity="0.85"/>
<circle cx="766.0" cy="1043.4" r="4.0" opacity="0.85"/>
<circle cx="753.5" cy="1038.8" r="6.3" opacity="0.85"/>
<circle cx="763.8" cy="1031.9" r="5.8" opacity="0.85"/>
<circle cx="755.0" cy="1042.0" r="3.6" opacity="0.85"/>
<circle cx="767.5" cy="1035.2" r="6.3" opacity="0.85"/>
<circle cx="760.9" cy="1035.5" r="3.9" opacity="0.85"/>
<circle cx="765.9" cy="1048.1" r="5.6" opacity="0.85"/>
<circle cx="769.1" cy="1041.8" r="5.1" opacity="0.85"/>
<circle cx="757.7" cy="1036.8" r="4.2" opacity="0.85"/>
<circle cx="764.7" cy="1039.4" r="4.4" opacity="0.85"/>
<circle cx="751.5" cy="1042.4" r="5.4" opacity="0.85"/>
<circle cx="773.9" cy="1035.3" r="4.2" opacity="0.85"/>
<circle cx="766.3" cy="1050.0" r="5.6" opacity="0.85"/>
<circle cx="765.2" cy="1041.4" r="5.0" opacity="0.85"/>
<circle cx="761.5" cy="1034.1" r="4.3" opacity="0.85"/>
<circle cx="758.7" cy="1031.5" r="4.2" opacity="0.85"/>
<circle cx="774.7" cy="1041.3" r="4.8" opacity="0.85"/>
<circle cx="763.2" cy="1035.9" r="5.9" opacity="0.85"/>
<circle cx="765.3" cy="1032.8" r="4.1" opacity="0.85"/>
<circle cx="774.4" cy="1038.9" r="6.0" opacity="0.85"/>
<circle cx="766.9" cy="1044.8" r="5.8" opacity="0.85"/>
<circle cx="761.8" cy="1049.6" r="5.0" opacity="0.85"/>
<circle cx="768.8" cy="1044.5" r="4.8" opacity="0.85"/>
<circle cx="758.4" cy="1031.4" r="3.9" opacity="0.85"/>
<circle cx="760.5" cy="1042.9" r="6.4" opacity="0.85"/>
<circle cx="768.2" cy="1041.8" r="3.7" opacity="0.85"/>
<circle cx="754.6" cy="1046.0" r="6.2" opacity="0.85"/>
<circle cx="764.3" cy="1029.9" r="6.3" opacity="0.85"/>
<circle cx="762.9" cy="1043.9" r="6.3" opacity="0.85"/>
<circle cx="765.9" cy="1038.2" r="5.5" opacity="0.85"/>
<circle cx="759.2" cy="1044.3" r="4.5" opacity="0.85"/>
<circle cx="768.2" cy="999.4" r="4.3" opacity="0.65"/>
<circle cx="764.0" cy="1005.7" r="3.9" opacity="0.65"/>
<circle cx="771.0" cy="998.1" r="4.6" opacity="0.65"/>
<circle cx="770.7" cy="992.1" r="4.8" opacity="0.65"/>
<circle cx="772.5" cy="1000.8" r="4.6" opacity="0.65"/>
<circle cx="770.6" cy="997.2" r="4.6" opacity="0.65"/>
<circle cx="768.9" cy="998.1" r="4.7" opacity="0.65"/>
<circle cx="770.3" cy="992.1" r="3.6" opacity="0.65"/>
<circle cx="769.7" cy="999.5" r="6.3" opacity="0.65"/>
<circle cx="767.7" cy="1006.3" r="6.2" opacity="0.65"/>
<circle cx="766.1" cy="1002.8" r="6.4" opacity="0.65"/>
<circle cx="765.4" cy="996.1" r="5.6" opacity="0.65"/>
<circle cx="766.6" cy="1003.1" r="3.5" opacity="0.65"/>
<circle cx="768.2" cy="990.9" r="5.4" opacity="0.65"/>
<circle cx="769.0" cy="998.5" r="4.2" opacity="0.65"/>
<circle cx="761.4" cy="1000.3" r="6.4" opacity="0.65"/>
<circle cx="765.4" cy="1001.8" r="4.8" opacity="0.65"/>
<circle cx="761.5" cy="999.3" r="4.0" opacity="0.65"/>
<circle cx="769.9" cy="992.1" r="6.0" opacity="0.65"/>
<circle cx="772.6" cy="1014.1" r="4.5" opacity="0.35"/>
<circle cx="770.7" cy="1020.8" r="5.8" opacity="0.35"/>
<circle cx="774.0" cy="1019.1" r="5.8" opacity="0.35"/>
<circle cx="772.0" cy="1019.3" r="3.6" opacity="0.35"/>
<circle cx="769.2" cy="1017.1" r="6.4" opacity="0.35"/>
<circle cx="775.8" cy="1014.6" r="4.3" opacity="0.35"/>
<circle cx="773.4" cy="1018.8" r="5.0" opacity="0.35"/>
<circle cx="771.1" cy="1014.7" r="4.2" opacity="0.35"/>
<circle cx="768.5" cy="1020.0" r="5.5" opacity="0.35"/>
<circle cx="771.9" cy="1013.3" r="5.5" opacity="0.35"/>
<circle cx="775.4" cy="1021.2" r="4.4" opacity="0.35"/>
<circle cx="769.2" cy="1016.7" r="5.7" opacity="0.35"/>
<circle cx="822.2" cy="1012.6" r="4.2" opacity="0.50"/>
<circle cx="825.1" cy="1014.9" r="5.2" opacity="0.50"/>
<circle cx="818.8" cy="1013.3" r="6.5" opacity="0.50"/>
<circle cx="817.3" cy="1008.8" r="5.9" opacity="0.50"/>
<circle cx="816.7" cy="1002.7" r="3.8" opacity="0.50"/>
<circle cx="814.2" cy="1010.1" r="6.0" opacity="0.50"/>
<circle cx="822.3" cy="1008.2" r="4.4" opacity="0.50"/>
<circle cx="823.4" cy="1011.3" r="6.4" opacity="0.50"/>
<circle cx="814.6" cy="1005.3" r="4.6" opacity="0.50"/>
<circle cx="824.4" cy="1005.2" r="4.3" opacity="0.50"/>
<circle cx="822.3" cy="1001.7" r="3.8" opacity="0.50"/>
<circle cx="816.0" cy="1005.6" r="4.2" opacity="0.50"/>
<circle cx="819.0" cy="1011.1" r="4.1" opacity="0.50"/>
<circle cx="820.8" cy="1014.9" r="5.5" opacity="0.50"/>
<circle cx="821.2" cy="1009.8" r="4.5" opacity="0.50"/>
<circle cx="819.6" cy="1006.0" r="4.4" opacity="0.50"/>
<circle cx="823.0" cy="1015.5" r="5.1" opacity="0.50"/>
<circle cx="823.2" cy="1009.9" r="4.7" opacity="0.50"/>
<circle cx="815.2" cy="1007.1" r="3.8" opacity="0.50"/>
</g>
<rect x="700" y="935" width="150" height="150" filter="url(#speck)" opacity="0.3"/>
</g>
<ellipse cx="774.5" cy="1009.2" rx="66.3" ry="65.6" fill="url(#limbG)"/>
<ellipse cx="774.5" cy="1009.2" rx="65.8" ry="65.1" fill="none" stroke="url(#rimG)" stroke-width="1.6"/>
<!-- sun -->
<circle cx="850.4" cy="981.3" r="33.9" fill="url(#sunG)"/>
<g stroke="#f9be1e" stroke-width="3.8" stroke-linecap="round">
<line x1="825" y1="938.8" x2="831" y2="949.7"/>
<line x1="808" y1="958.5" x2="816.7" y2="963.4"/>
<line x1="802.5" y1="983.2" x2="812.3" y2="982.1"/>
<line x1="807.4" y1="1006.7" x2="816.2" y2="1001.2"/>
<line x1="825" y1="1024.3" x2="832.6" y2="1016"/>
<line x1="850.2" y1="1021" x2="850.7" y2="1030.8"/>
<line x1="870.4" y1="1016" x2="875.4" y2="1024.3"/>
<line x1="883" y1="1000.7" x2="892.3" y2="1006.2"/>
<line x1="888.5" y1="982.6" x2="897.3" y2="983.2"/>
<line x1="886.3" y1="961.8" x2="893.5" y2="959.6"/>
</g>
</svg>
<svg width="2000" height="1414" viewBox="0 0 2000 1414">
<defs>
<filter id="wb" x="-10%" y="-10%" width="120%" height="120%"><feGaussianBlur stdDeviation="1.1"/></filter>
<clipPath id="wclip"><rect x="0" y="0" width="1681" height="1414"/></clipPath>
<g id="wm" font-family="Liberation Sans" font-size="31" fill="#f499b3" stroke="#f499b3" stroke-width="2.0">
<g transform="translate(159.66,157.43) rotate(-33.9)">
<path d="M-51.9,0 L-51.9,-6.8 A51.9,74.3 0 0 1 51.9,-6.8 L51.9,0" fill="none" stroke="#afe0e3" stroke-width="14.9" stroke-linecap="butt"/>
<path d="M-30.1,0 L-30.1,-6.8 A30.1,52.8 0 0 1 30.1,-6.8 L30.1,0" fill="none" stroke="#f59eb5" stroke-width="10.4" stroke-linecap="butt"/>
<path d="M-14.7,0 L-14.7,-6.8 A14.7,28.1 0 0 1 14.7,-6.8 L14.7,0" fill="none" stroke="#fde09a" stroke-width="8.2" stroke-linecap="butt"/>
<path d="M-65.4,2 L-65.4,-34.3 A65.4,65.4 0 0 1 65.4,-34.3 L65.4,2" fill="none" stroke="#e6d4be" stroke-width="1.3" stroke-dasharray="2.5 2"/>
<path transform="translate(-37.2,-88.1) rotate(-35) scale(1.150)" d="M0,4 C-6,-1 -5,-6 -2.5,-6 C-1,-6 0,-5 0,-3.5 C0,-5 1,-6 2.5,-6 C5,-6 6,-1 0,4Z" fill="#f1937e"/>
<path transform="translate(5.9,-97.0) rotate(5) scale(1.150)" d="M0,4 C-6,-1 -5,-6 -2.5,-6 C-1,-6 0,-5 0,-3.5 C0,-5 1,-6 2.5,-6 C5,-6 6,-1 0,4Z" fill="#f1937e"/>
<path transform="translate(41.3,-81.9) rotate(41) scale(1.150)" d="M0,4 C-6,-1 -5,-6 -2.5,-6 C-1,-6 0,-5 0,-3.5 C0,-5 1,-6 2.5,-6 C5,-6 6,-1 0,4Z" fill="#f1937e"/>
<path transform="translate(61.2,-42.7) rotate(82) scale(1.150)" d="M0,4 C-6,-1 -5,-6 -2.5,-6 C-1,-6 0,-5 0,-3.5 C0,-5 1,-6 2.5,-6 C5,-6 6,-1 0,4Z" fill="#f1937e"/>
<path transform="translate(-59.4,-43.0) rotate(-82) scale(1.150)" d="M0,4 C-6,-1 -5,-6 -2.5,-6 C-1,-6 0,-5 0,-3.5 C0,-5 1,-6 2.5,-6 C5,-6 6,-1 0,4Z" fill="#f1937e"/>
<text transform="translate(-95.1,-79.8) rotate(-70.4) scale(0.38,1)" text-anchor="middle" dy="11.5">U</text>
<text transform="translate(-89.6,-92.6) rotate(-62.5) scale(0.38,1)" text-anchor="middle" dy="11.5">N</text>
<text transform="translate(-82.3,-104.5) rotate(-54.6) scale(0.38,1)" text-anchor="middle" dy="11.5">A</text>
<text transform="translate(-63.2,-124.7) rotate(-38.7) scale(0.38,1)" text-anchor="middle" dy="11.5">S</text>
<text transform="translate(-51.7,-132.7) rotate(-30.8) scale(0.38,1)" text-anchor="middle" dy="11.5">C</text>
<text transform="translate(-39.3,-139.0) rotate(-22.9) scale(0.38,1)" text-anchor="middle" dy="11.5">U</text>
<text transform="translate(-26.1,-143.5) rotate(-15.0) scale(0.38,1)" text-anchor="middle" dy="11.5">O</text>
<text transform="translate(-12.4,-146.1) rotate(-7.0) scale(0.38,1)" text-anchor="middle" dy="11.5">L</text>
<text transform="translate(1.6,-146.9) rotate(0.9) scale(0.38,1)" text-anchor="middle" dy="11.5">A</text>
<text transform="translate(29.1,-142.6) rotate(16.7) scale(0.38,1)" text-anchor="middle" dy="11.5">A</text>
<text transform="translate(54.4,-131.0) rotate(32.6) scale(0.38,1)" text-anchor="middle" dy="11.5">C</text>
<text transform="translate(65.6,-122.7) rotate(40.5) scale(0.38,1)" text-anchor="middle" dy="11.5">O</text>
<text transform="translate(75.5,-113.0) rotate(48.4) scale(0.38,1)" text-anchor="middle" dy="11.5">L</text>
<text transform="translate(84.0,-101.9) rotate(56.3) scale(0.38,1)" text-anchor="middle" dy="11.5">O</text>
<text transform="translate(91.0,-89.8) rotate(64.2) scale(0.38,1)" text-anchor="middle" dy="11.5">R</text>
<text transform="translate(96.1,-76.8) rotate(72.2) scale(0.38,1)" text-anchor="middle" dy="11.5">I</text>
</g>
</g>
</defs>
<g clip-path="url(#wclip)" filter="url(#wb)" opacity="0.88">
<use href="#wm" x="340.0" y="19.5"/>
<use href="#wm" x="751.0" y="19.5"/>
<use href="#wm" x="1162.0" y="19.5"/>
<use href="#wm" x="1573.0" y="19.5"/>
<use href="#wm" x="340.0" y="405.5"/>
<use href="#wm" x="751.0" y="405.5"/>
<use href="#wm" x="1162.0" y="405.5"/>
<use href="#wm" x="1573.0" y="405.5"/>
<use href="#wm" x="340.0" y="791.5"/>
<use href="#wm" x="751.0" y="791.5"/>
<use href="#wm" x="1162.0" y="791.5"/>
<use href="#wm" x="1573.0" y="791.5"/>
<use href="#wm" x="340.0" y="1177.5"/>
<use href="#wm" x="751.0" y="1177.5"/>
<use href="#wm" x="1162.0" y="1177.5"/>
<use href="#wm" x="1573.0" y="1177.5"/>
</g>
</svg>
<div class="tl" style="top:370.03px;font-size:53.00px;--k:0.92"><span style="left:128.27px;--k:0.950">U</span><span style="left:167.38px;--k:0.970">N</span><span style="left:194.14px;--k:0.920">I</span><span style="left:217.72px;--k:0.830">C</span><span style="left:254.97px;--k:0.950">O</span><span style="left:303.33px;--k:0.800">S</span><span style="left:334.27px;--k:0.920">A</span><span style="left:365.45px;--k:0.920">T</span><span style="left:394.77px;--k:0.800">E</span><span style="left:423.69px;--k:0.920">L</span><span style="left:450.78px;--k:0.920">L</span><span style="left:470.26px;--k:0.920">I</span><span style="left:491.83px;--k:0.920">T</span><span style="left:521.14px;--k:0.800">E</span></div>
<div class="tl" style="top:443.85px;font-size:53.21px;--k:0.92"><span style="left:204.82px;--k:0.970">N</span><span style="left:240.86px;--k:0.920">A</span><span style="left:271.75px;--k:0.920">T</span><span style="left:305.35px;--k:0.950">U</span><span style="left:342.14px;--k:0.840">R</span><span style="left:373.78px;--k:0.920">A</span><span style="left:404.55px;--k:0.920">L</span><span style="left:431.54px;--k:0.800">E</span></div>
<div class="tl" style="top:516.94px;font-size:53.29px;--k:0.92"><span style="left:179.83px;--k:0.940">D</span><span style="left:213.27px;--k:0.800">E</span><span style="left:241.97px;--k:0.920">L</span><span style="left:268.84px;--k:0.920">L</span><span style="left:297.71px;--k:0.920">A</span><span style="left:342.12px;--k:0.920">T</span><span style="left:371.19px;--k:0.800">E</span><span style="left:403.21px;--k:0.840">R</span><span style="left:436.21px;--k:0.840">R</span><span style="left:467.89px;--k:0.920">A</span></div>
<div class="tl" style="top:370.04px;font-size:53.29px;--k:0.92"><span style="left:727.23px;--k:0.970">N</span><span style="left:767.26px;--k:0.950">O</span><span style="left:807.29px;--k:0.970">N</span><span style="left:858.38px;--k:0.940">B</span><span style="left:893.23px;--k:0.840">R</span><span style="left:915.44px;--k:0.920">I</span><span style="left:936.79px;--k:0.920">L</span><span style="left:963.75px;--k:0.920">L</span><span style="left:992.72px;--k:0.920">A</span><span style="left:1041.94px;--k:0.940">D</span><span style="left:1067.79px;--k:0.920">I</span><span style="left:1102.66px;--k:0.920">L</span><span style="left:1134.34px;--k:0.950">U</span><span style="left:1170.09px;--k:0.830">C</span><span style="left:1201.49px;--k:0.800">E</span></div>
<div class="tl" style="top:443.92px;font-size:53.43px;--k:0.92"><span style="left:877.11px;--k:0.860">P</span><span style="left:909.96px;--k:0.840">R</span><span style="left:945.23px;--k:0.950">O</span><span style="left:981.89px;--k:0.860">P</span><span style="left:1014.74px;--k:0.840">R</span><span style="left:1036.75px;--k:0.920">I</span><span style="left:1059.89px;--k:0.920">A</span></div>
<div class="tl" style="top:369.72px;font-size:53.43px;--k:0.92"><span style="left:1547.35px;--k:0.940">H</span><span style="left:1583.18px;--k:0.920">A</span><span style="left:1628.07px;--k:0.860">Z</span><span style="left:1663.22px;--k:0.950">O</span><span style="left:1703.43px;--k:0.970">N</span><span style="left:1737.94px;--k:0.800">E</span></div>
<div class="tl" style="top:444.16px;font-size:53.14px;--k:0.92"><span style="left:1486.90px;--k:0.860">P</span><span style="left:1509.30px;--k:0.920">I</span><span style="left:1532.79px;--k:0.920">A</span><span style="left:1569.20px;--k:0.970">N</span><span style="left:1603.75px;--k:0.800">E</span><span style="left:1637.57px;--k:0.890">G</span><span style="left:1675.67px;--k:0.890">G</span><span style="left:1701.29px;--k:0.920">I</span><span style="left:1724.79px;--k:0.920">A</span><span style="left:1761.20px;--k:0.970">N</span><span style="left:1795.71px;--k:0.920">T</span><span style="left:1817.30px;--k:0.920">I</span></div>
<div class="tl" style="top:589.71px;font-size:54.14px;--k:0.92"><span style="left:1437.63px;--k:0.840">R</span><span style="left:1459.96px;--k:0.920">I</span><span style="left:1481.40px;--k:0.920">L</span><span style="left:1500.91px;--k:0.920">I</span><span style="left:1522.50px;--k:0.800">E</span><span style="left:1552.49px;--k:0.880">V</span><span style="left:1574.99px;--k:0.920">I</span><span style="left:1619.27px;--k:1.000">M</span><span style="left:1663.42px;--k:0.950">O</span><span style="left:1703.64px;--k:0.970">N</span><span style="left:1738.12px;--k:0.920">T</span><span style="left:1772.03px;--k:0.950">U</span><span style="left:1811.69px;--k:0.950">O</span><span style="left:1846.47px;--k:0.800">S</span><span style="left:1867.80px;--k:0.920">I</span></div>
<div class="tl" style="top:735.43px;font-size:54.00px;--k:0.92"><span style="left:1548.31px;--k:0.830">C</span><span style="left:1582.69px;--k:0.840">R</span><span style="left:1614.31px;--k:0.920">A</span><span style="left:1645.17px;--k:0.920">T</span><span style="left:1674.17px;--k:0.800">E</span><span style="left:1706.11px;--k:0.840">R</span><span style="left:1728.22px;--k:0.920">I</span></div>
<div class="tl" style="top:843.92px;font-size:53.43px;--k:0.92"><span style="left:764.53px;--k:0.800">È</span><span style="left:799.41px;--k:0.920">I</span><span style="left:820.85px;--k:0.920">L</span><span style="left:847.90px;--k:0.920">L</span><span style="left:879.71px;--k:0.950">U</span><span style="left:922.71px;--k:1.000">M</span><span style="left:953.37px;--k:0.920">I</span><span style="left:980.11px;--k:0.970">N</span><span style="left:1016.45px;--k:0.920">A</span><span style="left:1047.61px;--k:0.920">T</span><span style="left:1078.76px;--k:0.920">A</span><span style="left:1128.16px;--k:0.940">D</span><span style="left:1163.71px;--k:0.920">A</span><span style="left:1194.74px;--k:0.920">L</span></div>
<div class="tl" style="top:916.72px;font-size:53.43px;--k:0.92"><span style="left:930.20px;--k:0.800">S</span><span style="left:964.98px;--k:0.950">O</span><span style="left:999.90px;--k:0.920">L</span><span style="left:1027.14px;--k:0.800">E</span></div>
<div class="tl lun" style="top:146.84px;font-size:72.64px;--k:0.95"><span style="left:835.04px;--k:0.87">L</span><span style="left:878.75px;--k:1.0">A</span><span style="left:942.64px;--k:0.87">L</span><span style="left:988.85px;--k:0.97">U</span><span style="left:1044.80px;--k:1.05">N</span><span style="left:1098.60px;--k:1.0">A</span></div>
</body></html>
